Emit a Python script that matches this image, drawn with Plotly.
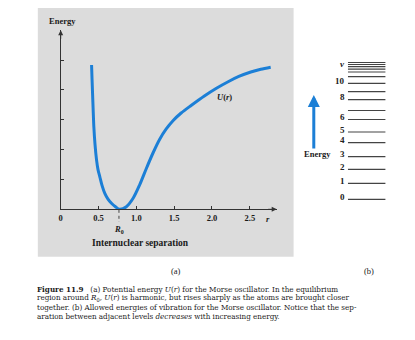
import plotly.graph_objects as go

# ---- data ----
# Morse potential U(r) (energy in tick units)
r_vals = [0.408, 0.414, 0.421, 0.429, 0.438, 0.453, 0.474, 0.493, 0.517, 0.547,
          0.583, 0.625, 0.671, 0.724, 0.775, 0.868, 0.957, 1.043, 1.132, 1.220,
          1.307, 1.395, 1.487, 1.592, 1.724, 1.899, 2.053, 2.207, 2.355, 2.513,
          2.645, 2.776]
u_vals = [4.837, 4.368, 3.887, 3.327, 2.767, 2.186, 1.649, 1.331, 1.090, 0.795,
          0.533, 0.342, 0.201, 0.084, 0.0, 0.087, 0.369, 0.815, 1.368, 1.887,
          2.340, 2.692, 2.977, 3.228, 3.480, 3.798, 4.050, 4.268, 4.452, 4.603,
          4.693, 4.760]
R0 = 0.77

x_tickvals = [0, 0.5, 1.0, 1.5, 2.0, 2.5]
x_ticktext = ["0", "0.5", "1.0", "1.5", "2.0", "2.5"]
y_tickvals = [1, 2, 3, 4, 5]

# vibrational levels (same energy scale)
level_E = [0.335, 0.872, 1.341, 1.763, 2.233, 2.591, 3.010, 3.312, 3.674, 3.942,
           4.224, 4.445, 4.603, 4.697, 4.780, 4.854, 4.921]
level_lbl = ["0", "1", "2", "3", "4", "5", "6", "", "8", "", "10", "", "", "", "<i>v</i>", "", ""]

caption_lines = [
    "<b>Figure 11.9</b>   (a) Potential energy <i>U</i>(<i>r</i>) for the Morse oscillator. In the equilibrium",
    "region around <i>R</i><sub>0</sub>, <i>U</i>(<i>r</i>) is harmonic, but rises sharply as the atoms are brought closer",
    "together. (b) Allowed energies of vibration for the Morse oscillator. Notice that the sep-",
    "aration between adjacent levels <i>decreases</i> with increasing energy.",
]

W, H = 415, 340
SERIF = "Liberation Serif"
CAP_FONT = "DejaVu Serif Condensed"
BLUE = "#1c7fd6"
AX = "#333333"

def px(x):
    return x / W

def py(y):
    return 1 - y / H

fig = go.Figure()

fig.add_trace(go.Scatter(x=r_vals, y=u_vals, mode="lines",
                         line=dict(color=BLUE, width=3, shape="spline", smoothing=0.8),
                         xaxis="x", yaxis="y", hoverinfo="skip"))

lx, ly = [], []
for e in level_E:
    lx += [0, 1, None]
    ly += [e, e, None]
fig.add_trace(go.Scatter(x=lx, y=ly, mode="lines", line=dict(color="#444444", width=1.2),
                         xaxis="x2", yaxis="y", hoverinfo="skip"))

annotations = []
for e, t in zip(level_E, level_lbl):
    if t:
        annotations.append(dict(x=0, y=e, xref="x2", yref="y", text=t, showarrow=False,
                                xanchor="right", yanchor="middle", xshift=-1, yshift=2.5,
                                font=dict(family=SERIF, size=9, color="#222", weight="bold")))

# axis arrowheads
annotations.append(dict(x=0, y=6.0, xref="x", yref="y", ax=0, ay=10, text="", showarrow=True,
                        arrowhead=2, arrowsize=1, arrowwidth=1, arrowcolor=AX))
annotations.append(dict(x=2.855, y=0, xref="x", yref="y", ax=-10, ay=0, text="", showarrow=True,
                        arrowhead=2, arrowsize=1, arrowwidth=1, arrowcolor=AX))

# right-panel energy arrow
annotations.append(dict(x=px(313.3), y=3.83, xref="paper", yref="y", ax=0, ay=1.99,
                        axref="pixel", ayref="y", text="", showarrow=True,
                        arrowhead=2, arrowsize=0.8, arrowwidth=3, arrowcolor=BLUE))

def label(x, y, text, size=8.5, weight="normal", xanchor="center", family=SERIF):
    annotations.append(dict(x=px(x), y=py(y), xref="paper", yref="paper", text=text,
                            showarrow=False, xanchor=xanchor, yanchor="middle",
                            font=dict(family=family, size=size, color="#1a1a1a", weight=weight)))

label(60.7, 20.7, "Energy", 8.5, "bold")
label(316.7, 154.5, "Energy", 8.5, "bold")
label(267.3, 219, "<i>r</i>", 8.5, "bold")
label(139.5, 243.3, "Internuclear separation", 9.5, "bold")
label(175, 270.7, "(a)", 8.5)
label(368.3, 270.7, "(b)", 8.5)
annotations.append(dict(x=R0, y=py(229), xref="x", yref="paper", text="<i>R</i><sub>0</sub>",
                        showarrow=False, xanchor="center", yanchor="middle",
                        font=dict(family=SERIF, size=8.5, color="#1a1a1a", weight="bold")))
annotations.append(dict(x=2.16, y=3.75, xref="x", yref="y", text="<i>U</i>(<i>r</i>)",
                        showarrow=False, font=dict(family=SERIF, size=8.5, color="#1a1a1a", weight="bold")))

for i, (t, yy) in enumerate(zip(caption_lines, [289.3, 298.4, 307.4, 316.4])):
    label(33, yy, t, 8.0, "normal", "left", CAP_FONT)

shapes = [
    dict(type="rect", xref="paper", yref="paper", x0=px(36), x1=px(293), y0=py(256.7), y1=py(8),
         fillcolor="#dcdcdc", line=dict(width=0), layer="below"),
    dict(type="line", xref="x", yref="paper", x0=R0, x1=R0, y0=py(209.8), y1=py(222),
         line=dict(color="#444444", width=1, dash="dot")),
]

fig.update_layout(
    width=W, height=H, margin=dict(l=0, r=0, t=0, b=0),
    paper_bgcolor="white", plot_bgcolor="rgba(0,0,0,0)",
    showlegend=False,
    xaxis=dict(domain=[px(59), px(276)], range=[0, 2.855], showgrid=False, zeroline=False,
               showline=True, linecolor=AX, linewidth=1, ticks="inside", ticklen=3,
               tickcolor=AX, tickvals=x_tickvals, ticktext=x_ticktext,
               tickfont=dict(family=SERIF, size=8.5, color="#1a1a1a", weight="bold"),
               anchor="y", fixedrange=True),
    yaxis=dict(domain=[py(209.3), py(30.3)], range=[0, 6.0], showgrid=False, zeroline=False,
               showline=True, linecolor=AX, linewidth=1, ticks="inside", ticklen=3,
               tickcolor=AX, tickvals=y_tickvals, showticklabels=False,
               anchor="x", fixedrange=True),
    xaxis2=dict(domain=[px(347.5), px(385.5)], range=[0, 1], visible=False, anchor="y"),
    annotations=annotations,
    shapes=shapes,
)

fig.write_html("out.html")
